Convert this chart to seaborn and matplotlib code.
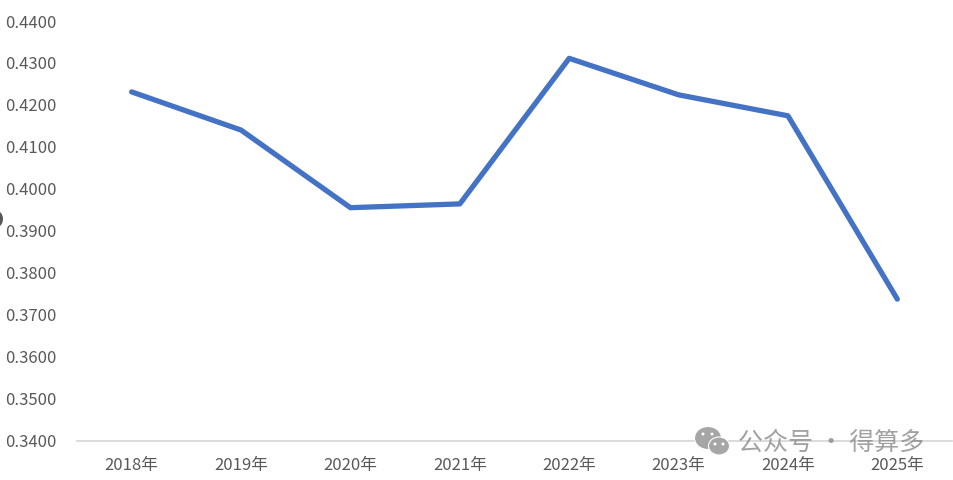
import matplotlib
matplotlib.use("Agg")
import matplotlib.pyplot as plt
import pandas as pd
import seaborn as sns
from matplotlib.patches import Ellipse

years = ["2018年", "2019年", "2020年", "2021年", "2022年", "2023年", "2024年", "2025年"]
values = [0.4231, 0.4140, 0.3955, 0.3964, 0.4311, 0.4224, 0.4174, 0.3737]
y_ticks = [0.34, 0.35, 0.36, 0.37, 0.38, 0.39, 0.40, 0.41, 0.42, 0.43, 0.44]

sns.set_theme(style="white")
plt.rcParams["font.family"] = ["Noto Sans CJK SC", "DejaVu Sans"]

df = pd.DataFrame({"year": years, "value": values})

fig = plt.figure(figsize=(9.54, 4.8), dpi=100)
# plot area in pixels: x 77-952, y 21-440
ax = fig.add_axes([77 / 954, 1 - 440.5 / 480, 875 / 954, 419.5 / 480])
sns.lineplot(data=df, x="year", y="value", ax=ax, color="#4472c4", linewidth=3.8,
             sort=False, errorbar=None)

ax.set_xlim(-0.5, 7.5)
ax.set_ylim(0.34, 0.44)
ax.set_yticks(y_ticks)
ax.set_yticklabels([f"{v:.4f}" for v in y_ticks])
ax.set_xlabel("")
ax.set_ylabel("")
for s in ["top", "left", "right"]:
    ax.spines[s].set_visible(False)
ax.spines["bottom"].set_color("#d4d4d4")
ax.spines["bottom"].set_linewidth(1.2)
ax.tick_params(axis="y", length=0, pad=15, labelsize=12, labelcolor="#595959")
ax.tick_params(axis="x", length=0, pad=12, labelsize=12, labelcolor="#595959")

# watermark
fig.text(738 / 954, 1 - 443 / 480, "公众号 · 得算多", fontsize=18, color="#8a8a8a", alpha=0.8,
         va="center", ha="left")
for cx, cy, w, h in [(708, 438, 27, 23), (719, 446, 21, 18)]:
    fig.add_artist(Ellipse((cx / 954, 1 - cy / 480), w / 954, h / 480, fc="#a6a6a6",
                           transform=fig.transFigure, ec="white", lw=0.8))
for cx, cy in [(703, 434), (712, 434), (715, 444), (723, 444)]:
    fig.add_artist(Ellipse((cx / 954, 1 - cy / 480), 3 / 954, 3 / 480, fc="white", ec="none",
                           transform=fig.transFigure))

# clipped circle on left edge
fig.add_artist(Ellipse((-3 / 954, 1 - 219 / 480), 12 / 954, 16 / 480, fc="#595959", ec="none",
                       transform=fig.transFigure))

fig.savefig("out.png", dpi=100)
